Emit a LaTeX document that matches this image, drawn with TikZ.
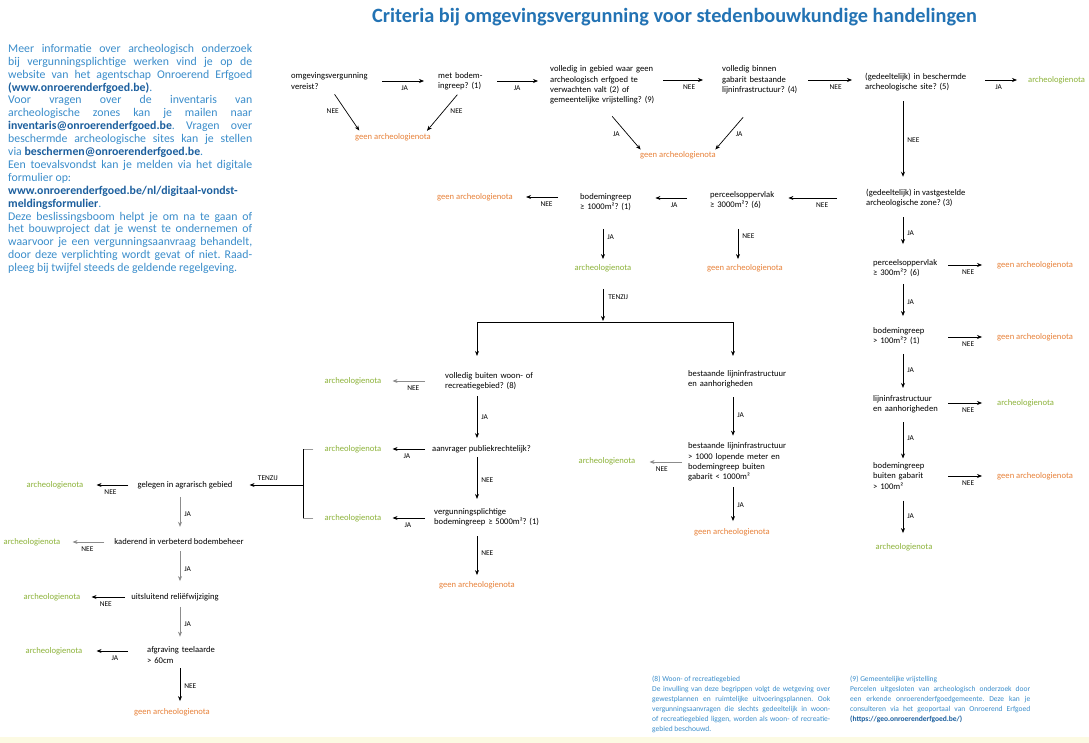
\documentclass[tikz,border=0pt]{standalone}
\usepackage{fontspec}
\setmainfont{Carlito}
\usetikzlibrary{arrows.meta,calc}
\frenchspacing
\definecolor{tblue}{HTML}{2373B4}
\definecolor{iblue}{HTML}{3A8DCB}
\definecolor{bblue}{HTML}{1C5F9E}
\definecolor{ngreen}{HTML}{8DB33A}
\definecolor{norange}{HTML}{E8823A}
\definecolor{band}{HTML}{FCFAE3}
\newcommand{\qf}{\fontsize{8.6}{10.3}\selectfont}
\newcommand{\lf}{\fontsize{7.4}{8}\selectfont}
\tikzset{
 q/.style={font=\qf, align=left, anchor=west, inner sep=0pt},
 res/.style={font=\qf, inner sep=0pt},
 gr/.style={res, text=ngreen},
 ng/.style={res, text=norange},
 arr/.style={draw=black, line width=0.7pt, -{Stealth[length=5pt,width=4pt]}},
 garr/.style={arr, draw=black!45},
 lbl/.style={font=\lf, inner sep=1pt},
}
\begin{document}
\begin{tikzpicture}[x=1pt,y=-1pt]
\useasboundingbox (0,0) rectangle (1089,743);
\fill[white] (0,0) rectangle (1089,743);
\fill[band] (0,737) rectangle (1089,743);

\node[anchor=base west, inner sep=0, font=\fontsize{20.3}{24}\selectfont\bfseries, text=tblue] (title) at (372,23) {Criteria bij omgevingsvergunning voor stedenbouwkundige handelingen};

\node[anchor=north west, inner sep=0, text width=244pt, align=justify, font=\fontsize{11.8}{12.9}\selectfont\frenchspacing, text=iblue] (info) at (8,44) {Meer informatie over archeologisch onderzoek\linebreak bij vergunningsplichtige werken vind je op de\linebreak website van het agentschap Onroerend Erfgoed\linebreak \textbf{\color{bblue}(www.onroerenderfgoed.be)}.\par
Voor vragen over de inventaris van\linebreak archeologische zones kan je mailen naar\linebreak \textbf{\color{bblue}inventaris@onroerenderfgoed.be}. Vragen over\linebreak beschermde archeologische sites kan je stellen\linebreak via \textbf{\color{bblue}beschermen@onroerenderfgoed.be}.\par
Een toevalsvondst kan je melden via het digitale\linebreak formulier op:\par
\textbf{\color{bblue}www.onroerenderfgoed.be/nl/digitaal-vondst-\linebreak meldingsformulier}.\par
Deze beslissingsboom helpt je om na te gaan of\linebreak het bouwproject dat je wenst te ondernemen of\linebreak waarvoor je een vergunningsaanvraag behandelt,\linebreak door deze verplichting wordt gevat of niet. Raad-\linebreak pleeg bij twijfel steeds de geldende regelgeving.};

% column coordinates
\coordinate (rc) at (903,0);
\coordinate (mc) at (738,0);

% top row
\node[q, text width=80pt] (q1) at (291,81) {omgevingsvergunning\\vereist?};
\node[q, text width=46pt] (q2) at (438,81) {met bodem-\\ingreep? (1)};
\node[q, text width=106pt] (q3) at (550,85) {volledig in gebied waar geen\\archeologisch erfgoed te\\verwachten valt (2) of\\gemeentelijke vrijstelling? (9)};
\node[q, text width=84pt] (q4) at (722,80) {volledig binnen\\gabarit bestaande\\lijninfrastructuur? (4)};
\node[q, text width=104pt] (q5) at (865,82) {(gedeeltelijk) in beschermde\\archeologische site? (5)};
\node[gr, anchor=west] (r1) at (1028,80) {archeologienota};
\node[ng] (g1) at (393,137) {geen archeologienota};
\node[ng] (g2) at (678,155) {geen archeologienota};

\draw[arr, shorten <=11pt, shorten >=14pt] (q1.east) -- (q1.east -| q2.west) node[lbl, midway, below=3pt]{JA};
\draw[arr, shorten <=13pt, shorten >=12pt] (q2.east) -- (q2.east -| q3.west) node[lbl, midway, below=3pt]{JA};
\draw[arr, shorten <=7pt, shorten >=19pt] (q4.west -| q3.east) -- (q4.west) node[lbl, midway, below=3pt]{NEE};
\draw[arr, shorten <=2pt, shorten >=13pt] (q4.east) -- (q4.east -| q5.west) node[lbl, midway, below=3pt]{NEE};
\draw[arr, shorten <=16pt, shorten >=11pt] (q5.east |- r1.west) -- (r1.west) node[lbl, midway, below=3pt]{JA};
\draw[arr, shorten <=6pt, shorten >=3pt] (q1.south) -- ([xshift=6pt]g1.north west) node[lbl, midway, left=6pt]{NEE};
\draw[arr, shorten <=6pt, shorten >=3pt] (q2.south) -- ([xshift=-6pt]g1.north east) node[lbl, midway, right=6pt]{NEE};
\draw[arr, shorten >=2pt] ([xshift=9pt,yshift=-12pt]q3.south) -- ([xshift=2pt]g2.north west) node[lbl, midway, left=6pt]{JA};
\draw[arr, shorten >=2pt] ([xshift=-21pt,yshift=-23pt]q4.south) -- ([xshift=-2pt]g2.north east) node[lbl, midway, right=6pt]{JA};

% right column
\node[q] (q6) at (866,198) {(gedeeltelijk) in vastgestelde\\archeologische zone? (3)};
\draw[arr, shorten <=10pt, shorten >=12pt] (rc |- q5.south) -- (rc |- q6.north) node[lbl, midway, right=3pt]{NEE};
\node[q, text width=66pt] (q7) at (873,268) {perceelsoppervlak\\≥ 300m²? (6)};
\draw[arr, shorten <=10pt, shorten >=15pt] (rc |- q6.south) -- (rc |- q7.north) node[lbl, midway, right=3pt]{JA};
\node[ng, anchor=west] (g3) at (997,265) {geen archeologienota};
\draw[arr, shorten <=9pt, shorten >=15pt] (q7.east |- g3.west) -- (g3.west) node[lbl, midway, below=3pt]{NEE};
\node[q, text width=66pt] (q8) at (873,336) {bodemingreep\\> 100m²? (1)};
\draw[arr, shorten <=7pt, shorten >=11pt] (rc |- q7.south) -- (rc |- q8.north) node[lbl, midway, right=3pt]{JA};
\node[ng, anchor=west] (g4) at (997,337) {geen archeologienota};
\draw[arr, shorten <=9pt, shorten >=15pt] (q8.east |- g4.west) -- (g4.west) node[lbl, midway, below=3pt]{NEE};
\node[q, text width=66pt] (q9) at (873,404) {lijninfrastructuur\\en aanhorigheden};
\draw[arr, shorten <=9pt, shorten >=7pt] (rc |- q8.south) -- (rc |- q9.north) node[lbl, midway, right=3pt]{JA};
\node[gr, anchor=west] (r2) at (997,403) {archeologienota};
\draw[arr, shorten <=9pt, shorten >=15pt] (q9.east |- r2.west) -- (r2.west) node[lbl, midway, below=3pt]{NEE};
\node[q, text width=66pt] (q10) at (873,476) {bodemingreep\\buiten gabarit\\> 100m²};
\draw[arr, shorten <=9pt, shorten >=4pt] (rc |- q9.south) -- (rc |- q10.north) node[lbl, midway, right=3pt]{JA};
\node[ng, anchor=west] (g5) at (997,476) {geen archeologienota};
\draw[arr, shorten <=9pt, shorten >=15pt] (q10.east |- g5.west) -- (g5.west) node[lbl, midway, below=3pt]{NEE};
\node[gr] (r3) at (904,547) {archeologienota};
\draw[arr, shorten <=11pt, shorten >=10pt] (rc |- q10.south) -- (rc |- r3.north) node[lbl, midway, right=3pt]{JA};

% middle row
\node[q, text width=68pt] (q11) at (710,200) {perceelsoppervlak\\≥ 3000m²? (6)};
\node[q, text width=58pt] (q12) at (580,202) {bodemingreep\\≥ 1000m²? (1)};
\node[ng] (g6) at (475,197) {geen archeologienota};
\draw[arr, shorten <=29pt, shorten >=10pt] (q6.west) -- (q6.west -| q11.east) node[lbl, midway, below=3pt]{NEE};
\draw[arr, shorten <=23pt, shorten >=17pt] (q11.west |- q6.west) -- (q6.west -| q12.east) node[lbl, midway, below=3pt]{JA};
\draw[arr, shorten <=22pt, shorten >=13pt] (q12.west |- g6.east) -- (g6.east) node[lbl, midway, below=3pt]{NEE};
\node[ng] (g7) at (745,268) {geen archeologienota};
\node[gr] (r4) at (603,268) {archeologienota};
\draw[arr, shorten <=20pt, shorten >=5pt] (mc |- q11.south) -- (mc |- g7.north) node[lbl, midway, right=3pt]{NEE};
\draw[arr, shorten <=18pt, shorten >=5pt] (r4.north |- q12.south) -- (r4.north) node[lbl, midway, right=3pt]{JA};
\coordinate (split) at (603,322);
\draw[arr, shorten <=17pt, shorten >=1pt] (r4.south) -- (split) node[lbl, midway, right=4pt]{TENZIJ};
\coordinate (sl) at (477,322);
\coordinate (sr) at (733,322);
\draw[line width=0.7pt] (sl) -- (sr);

% middle-left branch
\node[q, text width=88pt] (q13) at (445,381) {volledig buiten woon- of\\recreatiegebied? (8)};
\draw[arr, shorten >=16pt] (sl) -- (sl |- q13.north);
\node[gr] (r5) at (353,381) {archeologienota};
\draw[garr, shorten <=20pt, shorten >=11pt] (q13.west) -- (q13.west -| r5.east) node[lbl, midway, below=3pt]{NEE};
\node[q] (q14) at (432,449) {aanvrager publiekrechtelijk?};
\draw[arr, shorten <=6pt, shorten >=7pt] (sl |- q13.south) -- (sl |- q14.north) node[lbl, midway, right=3pt]{JA};
\node[gr] (r6) at (353,449) {archeologienota};
\draw[arr, shorten <=7pt, shorten >=11pt] (q14.west) -- (q14.west -| r6.east) node[lbl, midway, below=3pt]{JA};
\node[q, text width=110pt] (q15) at (434,517) {vergunningsplichtige\\bodemingreep ≥ 5000m²? (1)};
\draw[arr, shorten <=4pt, shorten >=9pt] (sl |- q14.south) -- (sl |- q15.north) node[lbl, midway, right=3pt]{NEE};
\node[gr] (r7) at (353,518) {archeologienota};
\draw[arr, shorten <=9pt, shorten >=11pt] (q15.west |- r7.east) -- (r7.east) node[lbl, midway, below=3pt]{JA};
\node[ng] (g8) at (477,585) {geen archeologienota};
\draw[arr, shorten <=10pt, shorten >=6pt] (sl |- q15.south) -- (sl |- g8.north) node[lbl, midway, right=3pt]{NEE};

% bracket
\coordinate (bm) at (303,485);
\draw[black!40, line width=0.6pt] ([xshift=-11pt]r6.west) -- (r6.west -| bm);
\draw[black!40, line width=0.6pt] ([xshift=-11pt]r7.west) -- (r7.west -| bm);
\draw[line width=0.7pt] (r6.west -| bm) -- (r7.west -| bm);

% bottom-left branch
\node[res] (q17) at (185,485) {gelegen in agrarisch gebied};
\draw[arr, shorten >=17pt] (bm) -- (q17.east) node[lbl, midway, above=3pt]{TENZIJ};
\node[gr] (r8) at (55,485) {archeologienota};
\draw[arr, shorten <=9pt, shorten >=13pt] (q17.west) -- (r8.east) node[lbl, midway, below=3pt]{NEE};
\node[res] (q18) at (179,542) {kaderend in verbeterd bodembeheer};
\coordinate (lc) at (180,0);
\draw[garr, shorten <=8pt, shorten >=12pt] (lc |- q17.south) -- (lc |- q18.north) node[lbl, midway, right=3pt]{JA};
\node[gr] (r9) at (32,542) {archeologienota};
\draw[garr, shorten <=10pt, shorten >=12pt] (q18.west) -- (r9.east) node[lbl, midway, below=3pt]{NEE};
\node[res] (q19) at (175,597) {uitsluitend reliëfwijziging};
\draw[garr, shorten <=6pt, shorten >=12pt] (lc |- q18.south) -- (lc |- q19.north) node[lbl, midway, right=3pt]{JA};
\node[gr] (r10) at (52,597) {archeologienota};
\draw[arr, shorten <=6pt, shorten >=11pt] (q19.west) -- (r10.east) node[lbl, midway, below=3pt]{NEE};
\node[q, text width=72pt] (q20) at (147,655) {afgraving teelaarde\\> 60cm};
\draw[garr, shorten <=6pt, shorten >=10pt] (lc |- q19.south) -- (lc |- q20.north) node[lbl, midway, right=3pt]{JA};
\node[gr] (r11) at (54,651) {archeologienota};
\draw[arr, shorten <=19pt, shorten >=14pt] (q20.west |- r11.east) -- (r11.east) node[lbl, midway, below=3pt]{JA};
\node[ng] (g9) at (172,712) {geen archeologienota};
\draw[arr, shorten <=5pt, shorten >=7pt] (lc |- q20.south) -- (lc |- g9.north) node[lbl, midway, right=3pt]{NEE};

% middle column
\node[q, text width=100pt] (q16) at (688,379) {bestaande lijninfrastructuur\\en aanhorigheden};
\draw[arr, shorten >=14pt] (sr) -- (sr |- q16.north);
\node[q, text width=100pt] (q21) at (688,462) {bestaande lijninfrastructuur\\> 1000 lopende meter en\\bodemingreep buiten\\gabarit < 1000m²};
\draw[arr, shorten <=9pt, shorten >=7pt] (sr |- q16.south) -- (sr |- q21.north) node[lbl, midway, right=3pt]{JA};
\node[gr] (r12) at (607,461) {archeologienota};
\draw[garr, shorten <=6pt, shorten >=14pt] (q21.west) -- (q21.west -| r12.east) node[lbl, midway, below=3pt]{NEE};
\node[ng] (g10) at (732,532) {geen archeologienota};
\draw[arr, shorten <=6pt, shorten >=7pt] (sr |- q21.south) -- (sr |- g10.north) node[lbl, midway, right=3pt]{JA};

% footnotes
\node[anchor=north west, inner sep=0, text width=178pt, align=justify, font=\fontsize{7.5}{10}\selectfont\frenchspacing, text=iblue] (fn1) at (652,676) {(8) Woon- of recreatiegebied\par De invulling van deze begrippen volgt de wetgeving over\linebreak gewestplannen en ruimtelijke uitvoeringsplannen. Ook\linebreak vergunningsaanvragen die slechts gedeeltelijk in woon-\linebreak of recreatiegebied liggen, worden als woon- of recreatie-\linebreak gebied beschouwd.};
\node[anchor=north west, inner sep=0, text width=180pt, align=justify, font=\fontsize{7.5}{10}\selectfont\frenchspacing, text=iblue] (fn2) at (850,676) {(9) Gemeentelijke vrijstelling\par Percelen uitgesloten van archeologisch onderzoek door\linebreak een erkende onroerenderfgoedgemeente. Deze kan je\linebreak consulteren via het geoportaal van Onroerend Erfgoed\linebreak \textbf{\color{bblue}(https://geo.onroerenderfgoed.be/)}};
\end{tikzpicture}
\end{document}
